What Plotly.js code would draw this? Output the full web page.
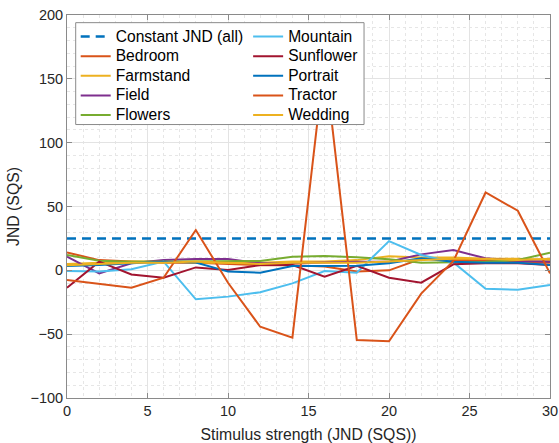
<!DOCTYPE html>
<html>
<head>
<meta charset="utf-8">
<script src="https://cdn.plot.ly/plotly-3.0.1.min.js"></script>
<style>html,body{margin:0;padding:0;background:#fff;}#chart{width:559px;height:443px;}</style>
</head>
<body>
<div id="chart"></div>
<script>
const strength = [0, 2, 4, 6, 8, 10, 12, 14, 16, 18, 20, 22, 24, 26, 28, 30];
const constantJND = 25;
const bedroom   = [14, 8, 7, 6, 6, 5, 4, 4, 3, -1, 0, 9, 8, 8, 7, 6];
const farmstand = [5, 6, 7, 7, 6, 6, 6, 7, 7, 8, 11, 10, 10, 9, 9, 8];
const field     = [10.7, -2.4, 5.5, 8.1, 8.8, 8.8, 5.5, 5.5, 6.2, 6.8, 6.8, 12.5, 15.9, 9.4, 7.5, 6.8];
const flowers   = [12, 7.5, 6.8, 6.8, 6.8, 6.8, 7.3, 10.7, 11.2, 10.2, 8.6, 6, 6.2, 6.8, 8.1, 13.8];
const mountain  = [-0.5, -1, 0.8, 6.8, -22.7, -20.6, -17.2, -10.2, -0.5, -1.8, 22.9, 12, 6.2, -14.4, -15.2, -11.5];
const sunflower = [-13.6, 6.8, -3.2, -5.8, 2.3, 0.2, 4.1, 4.1, -5, 3.6, -5.8, -9.7, 4.7, 5.5, 5.5, 4.1];
const portrait  = [3.4, 4.1, 5.5, 6.8, 6.2, -1, -1.8, 3.4, 3.4, 3.6, 5.5, 9.4, 6.8, 6, 6, 4.1];
const tractor   = [-7.6, -10.5, -13.6, -5.8, 31.6, -9.7, -44.2, -52.8, 165, -54.6, -55.6, -18.2, 7.3, 61, 46.7, -2.4];
const wedding   = [4, 5, 6, 6, 7, 6, 5, 6, 6, 6, 7, 8, 9, 9, 8, 9];

const C = {blue:'#0072BD', orange:'#D95319', yellow:'#EDB120', purple:'#7E2F8E', green:'#77AC30', cyan:'#4DBEEE', red:'#A2142F'};
const legendText = (s) => '<span style="font-size:15.6px">' + s + '</span>';

function line(name, y, color, legend) {
  return {x: strength, y: y, name: legendText(name), type: 'scatter', mode: 'lines',
          line: {color: color, width: 2}, legend: legend};
}
const constTrace = {x: [strength[0], strength[strength.length-1]], y: [constantJND, constantJND],
  name: legendText('Constant JND (all)'), type: 'scatter', mode: 'lines',
  line: {color: C.blue, width: 2.5, dash: '9px,6px'}, legend: 'legend'};

const traces = [
  constTrace,
  line('Bedroom', bedroom, C.orange, 'legend'),
  line('Farmstand', farmstand, C.yellow, 'legend'),
  line('Field', field, C.purple, 'legend'),
  line('Flowers', flowers, C.green, 'legend'),
  line('Mountain', mountain, C.cyan, 'legend2'),
  line('Sunflower', sunflower, C.red, 'legend2'),
  line('Portrait', portrait, C.blue, 'legend2'),
  line('Tractor', tractor, C.orange, 'legend2'),
  line('Wedding', wedding, C.yellow, 'legend2')
];
const font = 'Liberation Sans, Arial, Helvetica, sans-serif';
const axisCommon = {
  showline: true, linecolor: '#8a8a8a', linewidth: 1, mirror: 'ticks',
  ticks: 'inside', ticklen: 5, tickcolor: '#8a8a8a',
  showgrid: true, gridcolor: '#e3e3e3', gridwidth: 1,
  zeroline: false,
  tickfont: {family: font, size: 14.5, color: '#262626'}
};
const legendCommon = {
  xanchor: 'left', yanchor: 'top', orientation: 'v',
  bgcolor: 'rgba(0,0,0,0)', borderwidth: 0,
  font: {family: font, size: 12.8, color: '#000'},
  itemwidth: 30, tracegroupgap: 0, traceorder: 'normal'
};
const layout = {
  width: 559, height: 443,
  margin: {l: 67, r: 9, t: 15, b: 45},
  paper_bgcolor: '#fff', plot_bgcolor: '#fff',
  showlegend: true,
  xaxis: Object.assign({}, axisCommon, {
    range: [0, 30], dtick: 5, tick0: 0,
    minor: {dtick: 1, showgrid: true, gridcolor: '#e6e6e6', griddash: 'dot', gridwidth: 1, ticks: ''},
    title: {text: 'Stimulus strength (JND (SQS))', font: {family: font, size: 15.8, color: '#262626'}, standoff: 10}
  }),
  yaxis: Object.assign({}, axisCommon, {
    range: [-100, 200], dtick: 50, tick0: 0,
    minor: {dtick: 10, showgrid: true, gridcolor: '#e6e6e6', griddash: 'dot', gridwidth: 1, ticks: ''},
    title: {text: 'JND (SQS)', font: {family: font, size: 15.8, color: '#262626'}, standoff: 6}
  }),
  legend: Object.assign({}, legendCommon, {x: 0.018, y: 0.9825}),
  legend2: Object.assign({}, legendCommon, {x: 0.375, y: 0.9825}),
  shapes: [{
    type: 'rect', xref: 'paper', yref: 'paper', layer: 'above',
    x0: 0.018, x1: 0.615, y0: 0.714, y1: 0.980,
    fillcolor: '#ffffff', line: {color: '#8a8a8a', width: 1}
  }]
};
Plotly.newPlot('chart', traces, layout, {staticPlot: true, displayModeBar: false});
</script>
</body>
</html>
